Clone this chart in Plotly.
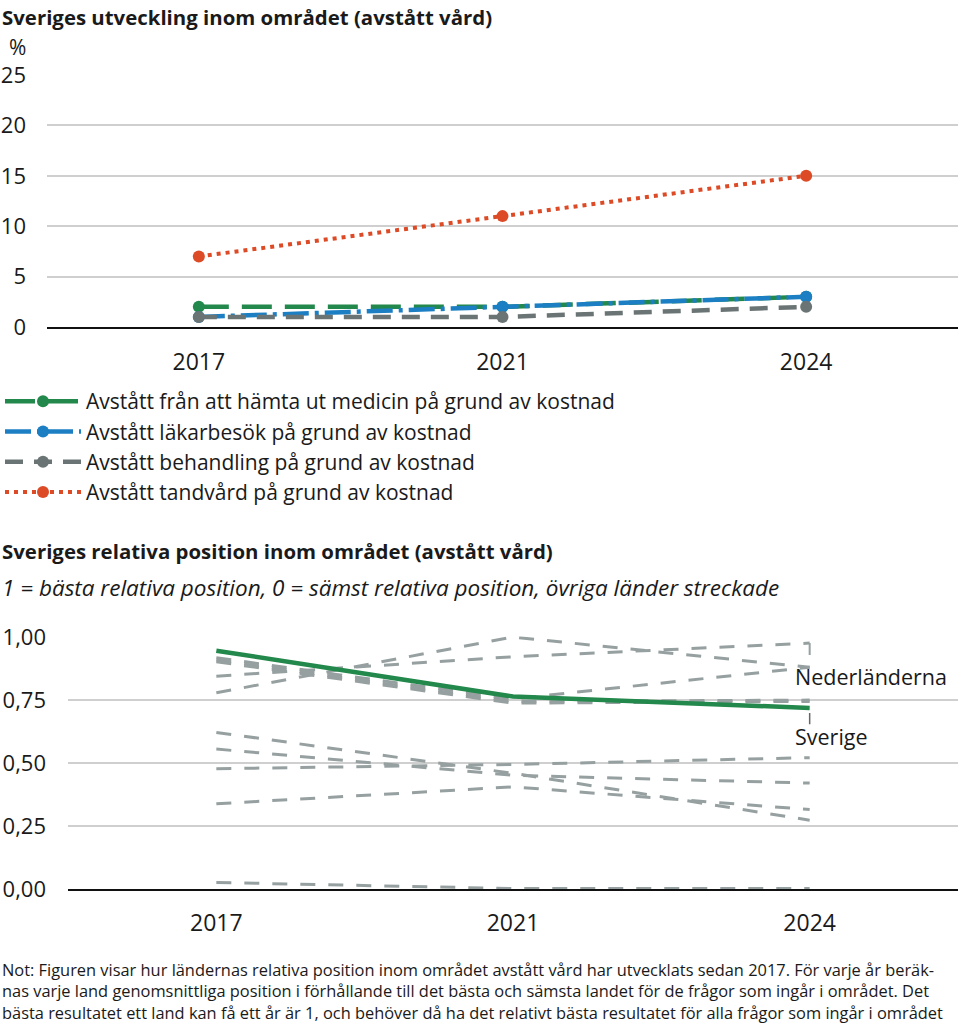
import plotly.graph_objects as go

# ---------------- data ----------------
years = ["2017", "2021", "2024"]

# Top chart (%)
medicin = [2, 2, 3]
lakarbesok = [1, 2, 3]
behandling = [1, 1, 2]
tandvard = [7, 11, 15]
top_names = [
    "Avstått från att hämta ut medicin på grund av kostnad",
    "Avstått läkarbesök på grund av kostnad",
    "Avstått behandling på grund av kostnad",
    "Avstått tandvård på grund av kostnad",
]
top_ticks = [0, 5, 10, 15, 20, 25]

# Bottom chart (relative position 0..1)
sverige = [0.946, 0.764, 0.719]
nederlanderna = [0.845, 0.922, 0.976]
ovriga_1 = [0.918, 0.755, 0.880]
ovriga_2 = [0.909, 0.745, 0.750]
ovriga_3 = [0.902, 0.738, 0.745]
ovriga_4 = [0.779, 1.000, 0.880]
ovriga_5 = [0.622, 0.460, 0.274]
ovriga_6 = [0.556, 0.452, 0.421]
ovriga_7 = [0.478, 0.495, 0.522]
ovriga_8 = [0.339, 0.406, 0.316]
ovriga_9 = [0.027, 0.003, 0.003]
bottom_ticks = [0, 0.25, 0.5, 0.75, 1.0]
bottom_ticktext = ["0,00", "0,25", "0,50", "0,75", "1,00"]

# ---------------- style ----------------
FONT = "Open Sans"
TXT = "#1a1a1a"
GRID = "#cfcfcf"
C_GREEN = "#23884b"
C_BLUE = "#1c7fc3"
C_GRAY = "#6b7474"
C_RED = "#dc4a26"
C_DASH = "#97a0a0"

W, H = 958, 1024


def py(p):
    return 1 - p / H


fig = go.Figure()

top_styles = [
    (medicin, C_GREEN, "30px,13px", 4.5),
    (lakarbesok, C_BLUE, "26px,6px,4px,6px", 4.5),
    (behandling, C_GRAY, "18px,11px", 4.5),
    (tandvard, C_RED, "4px,5px", 4),
]
for (vals, col, dash, lw), name in zip(top_styles, top_names):
    fig.add_trace(go.Scatter(
        x=years, y=vals, name=name, mode="lines+markers",
        line=dict(color=col, width=lw, dash=dash),
        marker=dict(color=col, size=12),
        xaxis="x", yaxis="y", showlegend=True, hoverinfo="skip",
    ))

others = [ovriga_1, ovriga_2, ovriga_3, ovriga_4, nederlanderna,
          ovriga_5, ovriga_6, ovriga_7, ovriga_8, ovriga_9]
for vals in others:
    fig.add_trace(go.Scatter(
        x=years, y=vals, mode="lines",
        line=dict(color=C_DASH, width=3, dash="15px,13px"),
        xaxis="x2", yaxis="y2", showlegend=False, hoverinfo="skip",
    ))
fig.add_trace(go.Scatter(
    x=years, y=sverige, mode="lines", name="Sverige",
    line=dict(color=C_GREEN, width=4.5),
    xaxis="x2", yaxis="y2", showlegend=False, hoverinfo="skip",
))

i2024 = years.index("2024")
shapes = [
    dict(type="line", xref="x2", yref="y2", x0=i2024, x1=i2024,
         y0=nederlanderna[-1], y1=nederlanderna[-1] - 0.07,
         line=dict(color=C_DASH, width=2, dash="12px,8px")),
    dict(type="line", xref="x2", yref="y2", x0=i2024, x1=i2024,
         y0=sverige[-1] - 0.02, y1=sverige[-1] - 0.065,
         line=dict(color="#666666", width=1.5)),
]

TITLE_SIZE = 20.4
TEXT_SIZE = 21
LEGEND_SIZE = 21
SUB_SIZE = 22.5
XTICK_SIZE = 23
YTICK_SIZE = 22

annotations = [
    dict(text="<b>Sveriges utveckling inom området (avstått vård)</b>",
         xref="paper", yref="paper", x=0, y=py(17), xanchor="left", yanchor="middle",
         showarrow=False, font=dict(size=TITLE_SIZE, color=TXT)),
    dict(text="%", xref="paper", yref="paper", x=17 / W, y=py(47), xanchor="center", yanchor="middle",
         showarrow=False, font=dict(size=TEXT_SIZE, color=TXT)),
    dict(text="<b>Sveriges relativa position inom området (avstått vård)</b>",
         xref="paper", yref="paper", x=0, y=py(551), xanchor="left", yanchor="middle",
         showarrow=False, font=dict(size=TITLE_SIZE, color=TXT)),
    dict(text="<i>1 = bästa relativa position, 0 = sämst relativa position, övriga länder streckade</i>",
         xref="paper", yref="paper", x=0, y=py(587), xanchor="left", yanchor="middle",
         showarrow=False, font=dict(size=SUB_SIZE, color=TXT)),
    dict(text="Nederländerna", xref="x2", yref="y2", x=i2024, y=0.843, xanchor="left",
         yanchor="middle", xshift=-17, showarrow=False, font=dict(size=21.5, color=TXT)),
    dict(text="Sverige", xref="x2", yref="y2", x=i2024, y=0.607, xanchor="left",
         yanchor="middle", xshift=-17, showarrow=False, font=dict(size=21.5, color=TXT)),
]
note_lines = [
    "Not: Figuren visar hur ländernas relativa position inom området avstått vård har utvecklats sedan 2017. För varje år beräk-",
    "nas varje land genomsnittliga position i förhållande till det bästa och sämsta landet för de frågor som ingår i området. Det",
    "bästa resultatet ett land kan få ett år är 1, och behöver då ha det relativt bästa resultatet för alla frågor som ingår i området",
]
for k, line in enumerate(note_lines):
    annotations.append(dict(
        text=line, xref="paper", yref="paper", x=0, y=py(969 + 21.5 * k),
        xanchor="left", yanchor="middle", showarrow=False,
        font=dict(size=16.4, color=TXT)))

fig.update_layout(
    width=W, height=H,
    margin=dict(l=0, r=0, t=0, b=0, autoexpand=False),
    paper_bgcolor="white", plot_bgcolor="white",
    font=dict(family=FONT, color=TXT),
    separators=", ",
    showlegend=True,
    legend=dict(x=0, xanchor="left", y=py(381), yanchor="top",
                font=dict(size=LEGEND_SIZE, color=TXT), bgcolor="rgba(0,0,0,0)",
                itemwidth=76, tracegroupgap=0, traceorder="normal"),
    xaxis=dict(domain=[47 / W, 1], anchor="y", type="category", range=[-0.5, 2.5],
               showgrid=False, zeroline=False, showline=True, linecolor="#111111",
               linewidth=2, ticks="", tickfont=dict(size=XTICK_SIZE), ticklabelstandoff=13),
    yaxis=dict(domain=[py(327), py(74.5)], anchor="x", range=[0, 25.05],
               tickvals=top_ticks, showgrid=True, gridcolor=GRID, gridwidth=1.5,
               zeroline=False, showline=False, ticks="", tickfont=dict(size=YTICK_SIZE),
               ticklabelstandoff=20),
    xaxis2=dict(domain=[68 / W, 1], anchor="y2", type="category", range=[-0.5, 2.5],
                showgrid=False, zeroline=False, showline=True, linecolor="#111111",
                linewidth=2, ticks="", tickfont=dict(size=XTICK_SIZE), ticklabelstandoff=12),
    yaxis2=dict(domain=[py(889.3), py(636.3)], anchor="x2", range=[0, 1.003],
                tickvals=bottom_ticks, ticktext=bottom_ticktext,
                showgrid=True, gridcolor=GRID, gridwidth=1.5,
                zeroline=False, showline=False, ticks="", tickfont=dict(size=YTICK_SIZE),
                ticklabelstandoff=21),
    shapes=shapes,
    annotations=annotations,
)

fig.write_html("out.html")
